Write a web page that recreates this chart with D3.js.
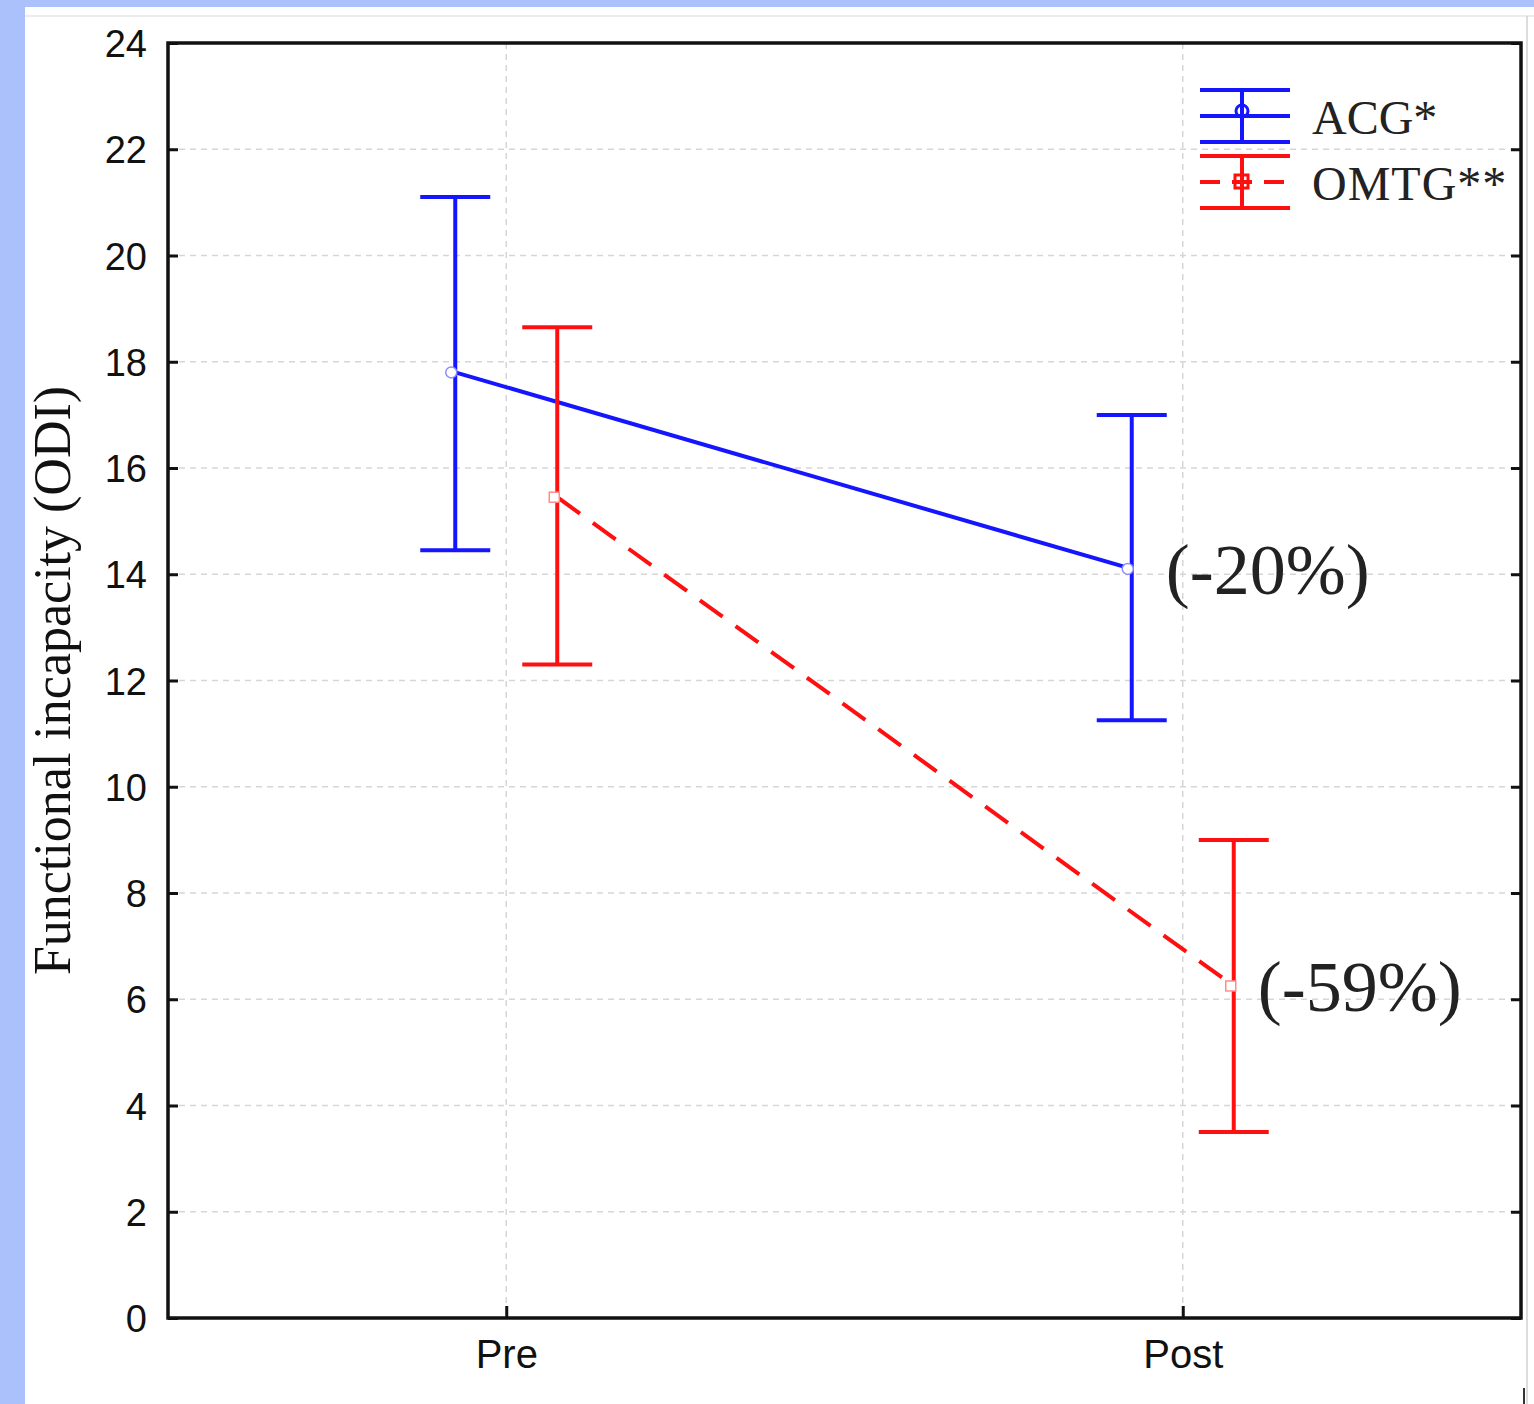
<!DOCTYPE html>
<html lang="en">
<head>
<meta charset="utf-8">
<title>Functional incapacity (ODI)</title>
<script src="https://d3js.org/d3.v7.min.js"></script>
<style>
    body, html { margin: 0; padding: 0; width: 100%; height: 100%; overflow: hidden; background: #abc1fb; }
    .tick-label { font-family: Arial, "Liberation Sans", sans-serif; fill: #111; }
    .serif { font-family: "Times New Roman", "Liberation Serif", serif; fill: #111; }
    .grid { stroke: #d6d6d6; stroke-width: 1.5; stroke-dasharray: 6,5; }
</style>
</head>
<body>
<svg width="1534" height="1404"></svg>
<script>
// data
var categories = ["Pre", "Post"];
var groups = ["ACG*", "OMTG**"];
var acgMean = [17.8, 14.1];
var acgLow  = [14.45, 11.25];
var acgHigh = [21.1, 17.0];
var omtMean = [15.45, 6.25];
var omtLow  = [12.3, 3.5];
var omtHigh = [18.65, 9.0];
var changes = ["(-20%)", "(-59%)"];
var yTicks = d3.range(0, 25, 2);

var svg = d3.select("svg");
var width = 1534, height = 1404;

// white sheet
svg.append("rect").attr("x", 25).attr("y", 7).attr("width", width - 25).attr("height", height - 7).attr("fill", "#fff");
svg.append("line").attr("x1", 25).attr("x2", width).attr("y1", 16).attr("y2", 16).attr("stroke", "#ececec").attr("stroke-width", 2);
svg.append("line").attr("x1", 1527).attr("x2", 1527).attr("y1", 16).attr("y2", height).attr("stroke", "#d0d0d0").attr("stroke-width", 1.5);
svg.append("line").attr("x1", 1524).attr("x2", 1524).attr("y1", 1388).attr("y2", height).attr("stroke", "#333").attr("stroke-width", 2);

var plotL = 168, plotR = 1521, plotT = 43, plotB = 1318;

var x = d3.scalePoint().domain(categories).range([plotL, plotR]).padding(0.5);
var y = d3.scaleLinear().domain([0, 24]).range([plotB, plotT]);
var offset = { "ACG*": -51, "OMTG**": 51 };
var color = { "ACG*": "#1515ff", "OMTG**": "#ff1010" };

// grid
svg.append("g").selectAll("line").data(yTicks.slice(1, -1)).enter().append("line")
    .attr("class", "grid")
    .attr("x1", plotL).attr("x2", plotR)
    .attr("y1", function (d) { return y(d); }).attr("y2", function (d) { return y(d); });
svg.append("g").selectAll("line").data(categories).enter().append("line")
    .attr("class", "grid")
    .attr("x1", function (d) { return x(d); }).attr("x2", function (d) { return x(d); })
    .attr("y1", plotT).attr("y2", plotB);

// axes: ticks inside
var gL = svg.append("g").attr("transform", "translate(" + plotL + ",0)")
    .call(d3.axisLeft(y).tickValues(yTicks).tickSizeInner(-10).tickSizeOuter(0).tickPadding(21));
gL.select(".domain").remove();
gL.selectAll(".tick line").attr("stroke", "#111").attr("stroke-width", 3);
gL.selectAll(".tick text").attr("class", "tick-label").attr("fill", "#111").attr("dy", "0.36em")
    .style("font-size", "38px");

var gR = svg.append("g").attr("transform", "translate(" + plotR + ",0)")
    .call(d3.axisRight(y).tickValues(yTicks).tickSizeInner(-10).tickSizeOuter(0).tickFormat(""));
gR.select(".domain").remove();
gR.selectAll(".tick line").attr("stroke", "#111").attr("stroke-width", 3);

var gB = svg.append("g").attr("transform", "translate(0," + plotB + ")")
    .call(d3.axisBottom(x).tickSizeInner(-12).tickSizeOuter(0).tickPadding(26));
gB.select(".domain").remove();
gB.selectAll(".tick line").attr("stroke", "#111").attr("stroke-width", 3);
gB.selectAll(".tick text").attr("class", "tick-label").attr("fill", "#111").attr("dy", "0.6em")
    .style("font-size", "40px");

svg.append("rect").attr("x", plotL).attr("y", plotT).attr("width", plotR - plotL).attr("height", plotB - plotT)
    .attr("fill", "none").attr("stroke", "#111").attr("stroke-width", 3.5);

// y title
svg.append("text").attr("class", "serif")
    .attr("transform", "translate(70," + ((plotT + plotB) / 2) + ") rotate(-90)")
    .attr("text-anchor", "middle")
    .style("font-size", "52px")
    .text("Functional incapacity (ODI)");

// series
var series = [
    { name: "ACG*", mean: acgMean, low: acgLow, high: acgHigh, dash: null, labelDx: 34 },
    { name: "OMTG**", mean: omtMean, low: omtLow, high: omtHigh, dash: "28,16", labelDx: 24 }
];
var capHalf = 35;

series.forEach(function (s, si) {
    var px = function (i) { return x(categories[i]) + offset[s.name]; };
    var g = svg.append("g");
    var line = d3.line().x(function (d, i) { return px(i); }).y(function (d) { return y(d); });
    g.append("path").datum(s.mean).attr("d", line)
        .attr("fill", "none").attr("stroke", color[s.name]).attr("stroke-width", 4)
        .attr("stroke-dasharray", s.dash);
    categories.forEach(function (c, i) {
        g.append("line").attr("x1", px(i)).attr("x2", px(i)).attr("y1", y(s.low[i])).attr("y2", y(s.high[i]))
            .attr("stroke", color[s.name]).attr("stroke-width", 4);
        [s.low[i], s.high[i]].forEach(function (v) {
            g.append("line").attr("x1", px(i) - capHalf).attr("x2", px(i) + capHalf)
                .attr("y1", y(v)).attr("y2", y(v))
                .attr("stroke", color[s.name]).attr("stroke-width", 4);
        });
        if (si === 0) {
            g.append("circle").attr("cx", px(i) - 4).attr("cy", y(s.mean[i])).attr("r", 5.5)
                .attr("fill", "#fff").attr("stroke", "#8c8cff").attr("stroke-width", 1.5);
        } else {
            g.append("rect").attr("x", px(i) - 8).attr("y", y(s.mean[i]) - 5).attr("width", 10).attr("height", 10)
                .attr("fill", "#fff").attr("stroke", "#ff8c8c").attr("stroke-width", 1.5);
        }
    });
    // change label at Post
    g.append("text").attr("class", "serif")
        .attr("x", px(1) + s.labelDx).attr("y", y(s.mean[1]))
        .attr("dy", "0.35em")
        .style("font-size", "72px")
        .style("fill", "#222")
        .text(changes[si]);
});

// legend
var legend = svg.append("g").attr("transform", "translate(1200,90)");
series.forEach(function (s, k) {
    var g = legend.append("g").attr("transform", "translate(0," + (k * 66) + ")");
    var c = color[s.name];
    [0, 52].forEach(function (yy) {
        g.append("line").attr("x1", 0).attr("x2", 90).attr("y1", yy).attr("y2", yy).attr("stroke", c).attr("stroke-width", 4);
    });
    g.append("line").attr("x1", 42).attr("x2", 42).attr("y1", 0).attr("y2", 52).attr("stroke", c).attr("stroke-width", 4);
    g.append("line").attr("x1", 0).attr("x2", 90).attr("y1", 26).attr("y2", 26).attr("stroke", c).attr("stroke-width", 4)
        .attr("stroke-dasharray", s.dash ? "20,12" : null);
    if (k === 0) {
        g.append("circle").attr("cx", 42).attr("cy", 21).attr("r", 6).attr("fill", "none").attr("stroke", c).attr("stroke-width", 3);
    } else {
        g.append("rect").attr("x", 35).attr("y", 19).attr("width", 13).attr("height", 13).attr("fill", "none").attr("stroke", c).attr("stroke-width", 3);
    }
    g.append("text").attr("class", "serif").attr("x", 112).attr("y", 44)
        .style("font-size", "48px").style("fill", "#222")
        .style("letter-spacing", k === 1 ? "1px" : null)
        .text(s.name);
});
</script>
</body>
</html>
